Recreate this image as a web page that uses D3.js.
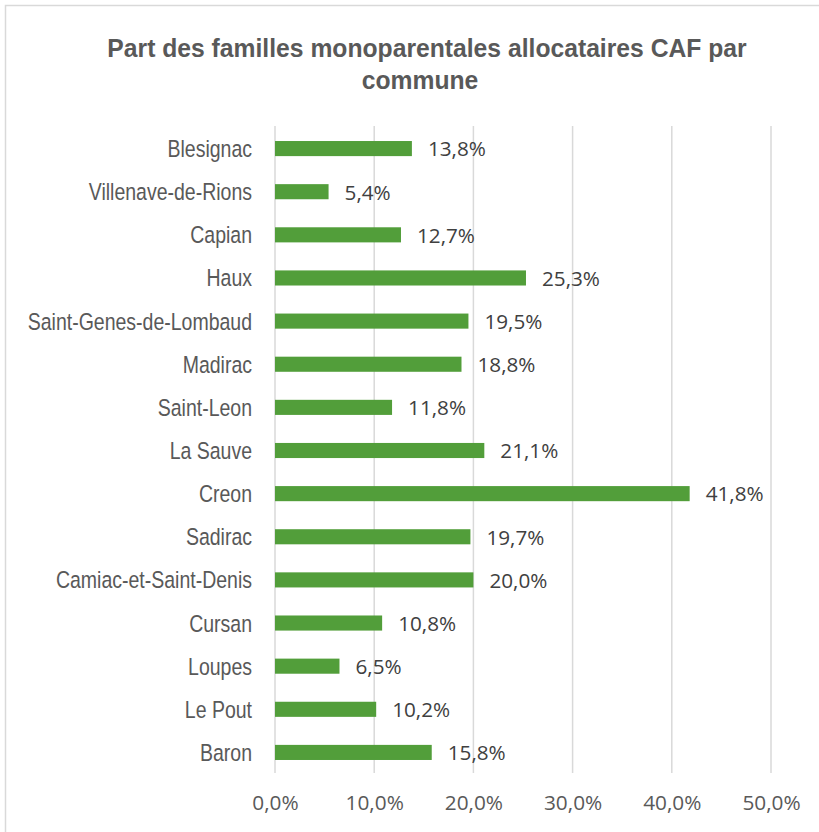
<!DOCTYPE html>
<html><head><meta charset="utf-8">
<script src="https://cdn.jsdelivr.net/npm/d3@7"></script>
<style>body{margin:0;background:#fff}</style>
</head><body>
<svg id="c" width="819" height="832"></svg>
<script>
const categories = ["Blesignac","Villenave-de-Rions","Capian","Haux","Saint-Genes-de-Lombaud","Madirac","Saint-Leon","La Sauve","Creon","Sadirac","Camiac-et-Saint-Denis","Cursan","Loupes","Le Pout","Baron"];
const values = [13.8,5.4,12.7,25.3,19.5,18.8,11.8,21.1,41.8,19.7,20.0,10.8,6.5,10.2,15.8];
const tickValues = [0,10,20,30,40,50];
const titleLines = ["Part des familles monoparentales allocataires CAF par","commune"];

const svg = d3.select("#c");
const fmt = v => d3.format(".1f")(v).replace(".", ",") + "%";
const sans = "'Liberation Sans',Arial,sans-serif";
const numf = "'Open Sans',sans-serif";

svg.append("rect").attr("x",5.5).attr("y",5.5).attr("width",830).attr("height",840)
  .attr("fill","#fff").attr("stroke","#d9d9d9").attr("stroke-width",1.5);

const titleX = [427, 420];
svg.append("g").selectAll("text").data(titleLines).join("text")
  .attr("transform",(d,i)=>`translate(${titleX[i]},${57+i*32}) scale(0.95,1)`)
  .attr("text-anchor","middle")
  .attr("font-family",sans).attr("font-weight","bold").attr("font-size",26).attr("fill","#595959")
  .text(d=>d);

const x = d3.scaleLinear().domain([0,50]).range([275,771]);
const y = d3.scaleBand().domain(categories).range([127,774]).paddingInner(0.65).paddingOuter(0.325);

svg.append("g").selectAll("line").data(tickValues).join("line")
  .attr("x1",d=>x(d)).attr("x2",d=>x(d)).attr("y1",126).attr("y2",773)
  .attr("stroke","#d9d9d9").attr("stroke-width",1.5);

const xAxis = svg.append("g").attr("transform","translate(0,773)")
  .call(d3.axisBottom(x).tickValues(tickValues).tickFormat(fmt).tickSize(0).tickPadding(22));
xAxis.select(".domain").remove();
xAxis.selectAll("text").attr("font-family",numf).attr("font-size",20.8).attr("fill","#595959");

// category labels (condensed look)
svg.append("g").selectAll("text").data(categories).join("text")
  .attr("transform",d=>`translate(${x(0)-23},${y(d)+y.bandwidth()/2}) scale(0.83,1)`)
  .attr("text-anchor","end").attr("dy","0.36em")
  .attr("font-family",sans).attr("font-size",23.5).attr("fill","#595959")
  .text(d=>d);

svg.append("g").selectAll("rect").data(values).join("rect")
  .attr("x",x(0)).attr("y",(d,i)=>y(categories[i]))
  .attr("width",d=>x(d)-x(0)).attr("height",y.bandwidth())
  .attr("fill","#529e3a");

svg.append("g").selectAll("text").data(values).join("text")
  .attr("x",d=>x(d)+16).attr("y",(d,i)=>y(categories[i])+y.bandwidth()/2)
  .attr("dy","0.38em").attr("font-family",numf).attr("font-size",20.7).attr("fill","#404040")
  .text(fmt);
</script>
</body></html>
